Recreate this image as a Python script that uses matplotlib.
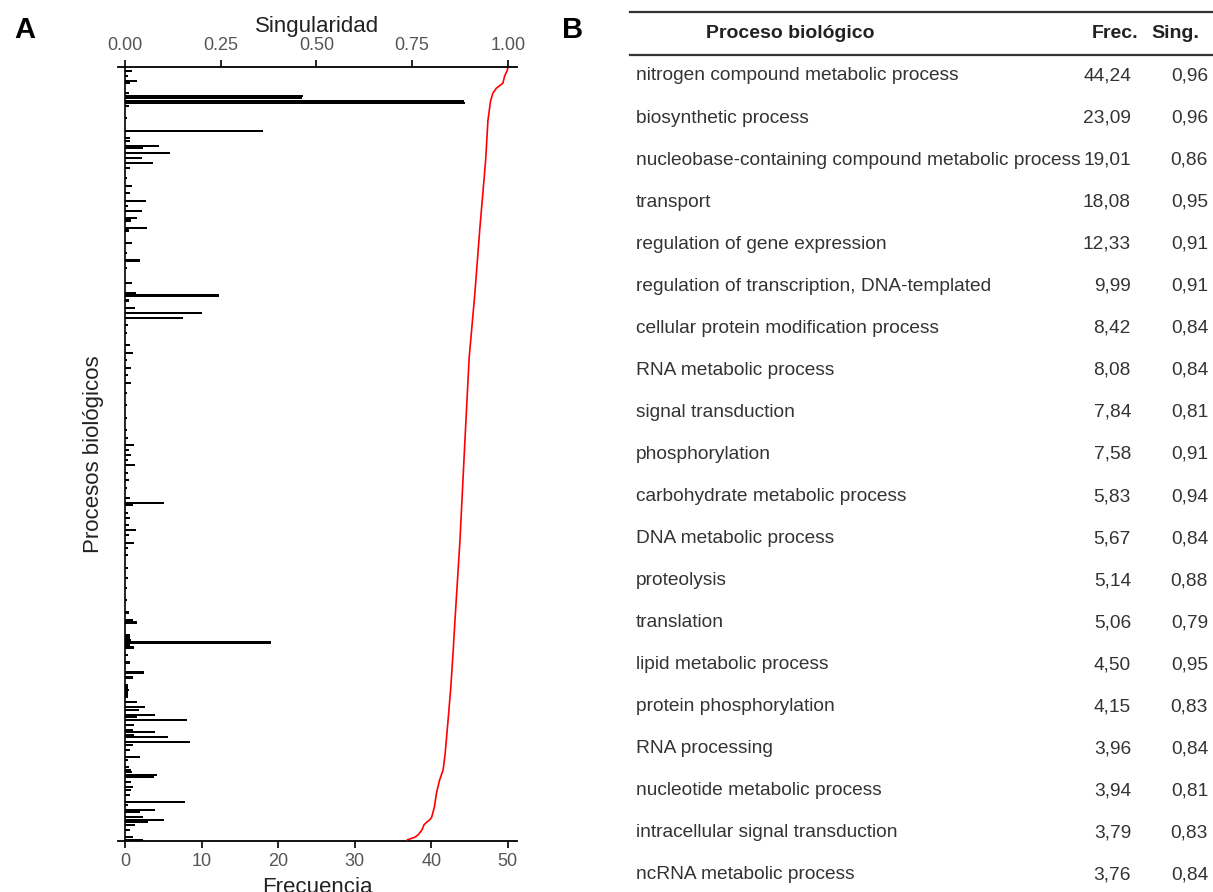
import matplotlib
matplotlib.use("Agg")
import matplotlib.pyplot as plt

plt.rcParams['font.family'] = ['Liberation Sans', 'DejaVu Sans']

# --- panel A data: processes ordered by singularity (rank 0 at top) ---
n_procesos = 310

bar_rank = [1, 3, 5, 6, 10, 11, 12, 13, 14, 15, 20, 25, 28, 29, 31, 32, 34, 36, 38, 40,
            44, 47, 50, 53, 55, 57, 60, 61, 64, 65, 70, 74, 77, 80, 86, 90, 91, 93, 96, 98,
            100, 103, 106, 111, 114, 117, 120, 123, 126, 130, 135, 140, 145, 148, 151, 153, 155, 157, 159, 162,
            165, 168, 172, 174, 175, 178, 180, 183, 185, 187, 190, 192, 195, 200, 204, 208, 213, 218, 221, 222,
            227, 228, 229, 230, 231, 232, 235, 238, 242, 244, 247, 248, 249, 250, 251, 252, 254, 256, 257, 259,
            260, 261, 263, 265, 266, 267, 268, 270, 271, 273, 276, 277, 280, 281, 282, 283, 284, 286, 288, 289,
            291, 294, 295, 297, 298, 300, 301, 302, 303, 305, 308, 309]
bar_freq = [0.9, 0.4, 1.5, 0.6, 0.5, 23.2, 23.09, 44.24, 44.4, 0.5, 0.3, 18.08, 0.7, 0.7, 4.5, 2.3, 5.83, 2.2, 3.6, 0.7,
            0.3, 0.9, 0.6, 2.7, 0.4, 2.2, 1.5, 0.8, 2.9, 0.5, 0.9, 0.3, 2.0, 0.3, 0.9, 1.4, 12.33, 0.5, 1.3, 9.99,
            7.58, 0.4, 0.3, 0.7, 1.1, 0.3, 0.8, 0.4, 0.8, 0.3, 0.2, 0.3, 0.3, 0.4, 1.2, 0.5, 0.8, 0.4, 1.3, 0.4,
            0.5, 0.3, 0.6, 5.06, 1.0, 0.4, 0.6, 0.5, 1.4, 0.5, 1.2, 0.4, 0.4, 0.4, 0.4, 0.3, 0.3, 0.5, 1.1, 1.6,
            0.6, 0.7, 0.8, 19.01, 0.7, 1.2, 0.4, 0.7, 2.5, 1.0, 0.4, 0.4, 0.5, 0.4, 0.4, 0.4, 1.6, 2.6, 1.8, 3.9,
            1.6, 8.08, 1.2, 1.0, 3.96, 1.2, 5.67, 8.42, 1.0, 0.6, 2.0, 0.4, 0.5, 0.8, 0.9, 4.15, 3.76, 0.8, 1.0, 0.8,
            0.6, 7.84, 0.4, 3.94, 1.9, 2.3, 5.14, 3.0, 1.3, 0.7, 1.0, 2.3]

sing_rank = [0, 1, 3, 6, 8, 10, 13, 21, 37, 64, 90, 116, 149, 189, 221, 234, 248, 261, 275, 281,
             285, 290, 296, 300, 301, 302, 303, 305, 307, 308, 309]
sing_val = [1.0, 0.998, 0.992, 0.987, 0.970, 0.961, 0.955, 0.948, 0.942, 0.927, 0.914, 0.899, 0.888, 0.875, 0.862, 0.857,
            0.851, 0.844, 0.836, 0.831, 0.822, 0.814, 0.808, 0.801, 0.796, 0.788, 0.781, 0.776, 0.766, 0.757, 0.738]

# --- panel B data ---
procesos = ["nitrogen compound metabolic process", "biosynthetic process",
            "nucleobase-containing compound metabolic process", "transport",
            "regulation of gene expression", "regulation of transcription, DNA-templated",
            "cellular protein modification process", "RNA metabolic process",
            "signal transduction", "phosphorylation", "carbohydrate metabolic process",
            "DNA metabolic process", "proteolysis", "translation", "lipid metabolic process",
            "protein phosphorylation", "RNA processing", "nucleotide metabolic process",
            "intracellular signal transduction", "ncRNA metabolic process"]
frec = [44.24, 23.09, 19.01, 18.08, 12.33, 9.99, 8.42, 8.08, 7.84, 7.58,
        5.83, 5.67, 5.14, 5.06, 4.50, 4.15, 3.96, 3.94, 3.79, 3.76]
sing = [0.96, 0.96, 0.86, 0.95, 0.91, 0.91, 0.84, 0.84, 0.81, 0.91,
        0.94, 0.84, 0.88, 0.79, 0.95, 0.83, 0.84, 0.81, 0.83, 0.84]

W, H = 1213, 892
fig = plt.figure(figsize=(W / 100, H / 100), dpi=100)

# ---------------- panel A ----------------
ax = fig.add_axes([118 / W, 1 - 841 / H, 399 / W, 774 / H])
ax.barh(bar_rank, bar_freq, height=0.85, color="black")
ax.axvline(0, color="black", lw=1.2)
ax.set_xlim(-0.92, 51.2)
ax.set_ylim(n_procesos - 0.5, -0.5)
ax.set_yticks([])
ax.set_xticks([0, 10, 20, 30, 40, 50])
for s in ["left", "right", "top"]:
    ax.spines[s].set_visible(False)
ax.spines["bottom"].set_linewidth(1.3)
ax.tick_params(axis="x", direction="out", length=5, width=1.2, labelsize=13,
               labelcolor="#555555", pad=4)
ax.set_xlabel("Frecuencia", fontsize=16, color="#222222", labelpad=5)
ax.set_ylabel("Procesos biológicos", fontsize=16, color="#222222", labelpad=10)

ax2 = ax.twiny()
ax2.plot(sing_val, sing_rank, color="red", lw=1.2)
ax2.set_xlim(-0.92 / 50, 51.2 / 50)
ax2.set_ylim(n_procesos - 0.5, -0.5)
ax2.set_xticks([0, 0.25, 0.5, 0.75, 1.0])
ax2.set_xticklabels(["0.00", "0.25", "0.50", "0.75", "1.00"])
for s in ["left", "right", "bottom"]:
    ax2.spines[s].set_visible(False)
ax2.spines["top"].set_linewidth(1.3)
ax2.tick_params(axis="x", direction="out", length=5, width=1.2, labelsize=13,
                labelcolor="#555555", pad=4)
ax2.set_xlabel("Singularidad", fontsize=16, color="#222222", labelpad=4)

# ---------------- panel B (table) ----------------
tab = fig.add_axes([0, 0, 1, 1])
tab.set_xlim(0, W)
tab.set_ylim(H, 0)
tab.axis("off")
tab.patch.set_alpha(0)

tab.text(25, 30, "A", fontsize=21, fontweight="bold", ha="center", va="center")
tab.text(573, 30, "B", fontsize=21, fontweight="bold", ha="center", va="center")

tab.plot([630, W], [12, 12], color="#333333", lw=1.6, clip_on=False)
tab.plot([630, W], [55, 55], color="#333333", lw=1.6, clip_on=False)
tab.text(790, 33, "Proceso biológico", fontsize=14, fontweight="bold", color="#222222",
         ha="center", va="center")
tab.text(1138, 33, "Frec.", fontsize=14, fontweight="bold", color="#222222",
         ha="right", va="center")
tab.text(1151, 33, "Sing.", fontsize=14, fontweight="bold", color="#222222",
         ha="left", va="center")

row0, step = 76, 42.05
for i, (p, f, s) in enumerate(zip(procesos, frec, sing)):
    y = row0 + i * step
    tab.text(636, y, p, fontsize=13.8, color="#333333", ha="left", va="center")
    tab.text(1131, y, f"{f:.2f}".replace(".", ","), fontsize=13.8, color="#333333",
             ha="right", va="center")
    tab.text(1208, y, f"{s:.2f}".replace(".", ","), fontsize=13.8, color="#333333",
             ha="right", va="center")

fig.savefig("out.png", dpi=100)
